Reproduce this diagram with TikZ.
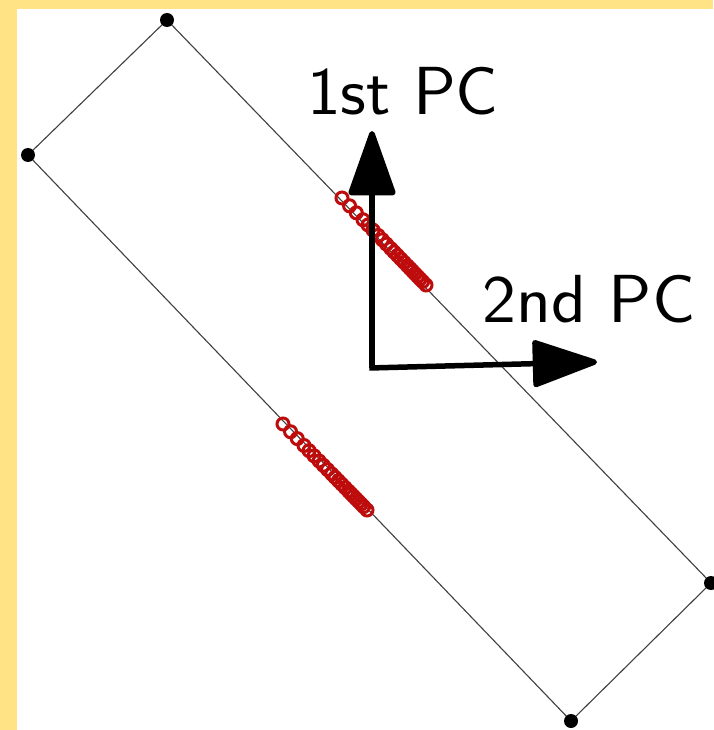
\documentclass[tikz,border=0pt]{standalone}
\usepackage{fontspec}
\usepackage{graphicx}
\usetikzlibrary{arrows.meta,calc}
\definecolor{frameyellow}{HTML}{FFE385}
\definecolor{ptred}{HTML}{BE0C0C}
\definecolor{edgegray}{HTML}{404040}
\tikzset{
  edge/.style={draw=edgegray, line width=1.1pt},
  corner/.style={circle, fill=black, inner sep=0pt, minimum size=14pt},
  pt/.style={circle, draw=ptred, line width=3pt, inner sep=0pt, minimum size=12pt},
  pcarrow/.style={line width=5.5pt, -{Triangle[length=70pt, width=48pt, round]}},
  pclabel/.style={anchor=base, inner sep=0pt, font=\sffamily\fontsize{68}{76}\selectfont},
}
\begin{document}
\begin{tikzpicture}[x=1pt, y=-1pt]
\useasboundingbox (0,0) rectangle (713,730);
\fill[frameyellow] (0,0) rectangle (713,730);
\fill[white] (17,9) rectangle (713,730);
% rectangle corners
\coordinate (T) at (167,20);
\coordinate (L) at (28,155);
\coordinate (R) at (711,583);
\coordinate (B) at (571,721);
\draw[edge] (T) -- (L) -- (B) -- (R) -- cycle;
\foreach \c in {T,L,R,B} \node[corner] (d\c) at (\c) {};
% red point clusters
\coordinate (UA) at (342,198);
\coordinate (UB) at (426,285);
\coordinate (LA) at (283,424);
\coordinate (LB) at (367,510);
\foreach \t [count=\i] in {0,0.09,0.17,0.25,0.31,0.37,0.43,0.48,0.53,0.58,0.62,0.66,0.70,0.74,0.78,0.81,0.84,0.87,0.90,0.93,0.96,1.0} {
  \node[pt] (u\i) at ($(UA)!\t!(UB)$) {};
  \node[pt] (l\i) at ($(LA)!\t!(LB)$) {};
}
% PC arrows
\coordinate (O) at (372,368);
\coordinate (P1) at (372,131);
\coordinate (P2) at (597,362);
\draw[pcarrow] ([yshift=2.75pt]O) -- (P1);
\draw[pcarrow] ([xshift=-2.75pt]O) -- (P2);
\node[pclabel] (l1) at (403,115) {\scalebox{1.05}[1]{1st PC}};
\node[pclabel] (l2) at (589,322) {\scalebox{1.06}[1]{2nd PC}};
\end{tikzpicture}
\end{document}
